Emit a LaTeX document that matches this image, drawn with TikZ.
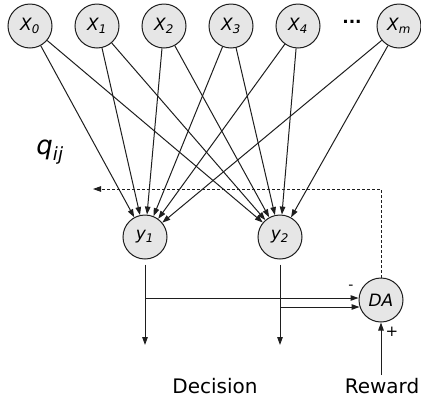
\documentclass[tikz,border=0pt]{standalone}
\usepackage{fontspec}
\setmainfont{DejaVu Sans}
\usetikzlibrary{calc,arrows.meta}

\definecolor{cellfill}{HTML}{E6E6E6}
\definecolor{ink}{HTML}{1E1E1E}

\begin{document}
\begin{tikzpicture}[x=1pt,y=-1pt,
		neuron/.style={circle,draw=ink,fill=cellfill,line width=1pt,minimum size=44pt,inner sep=0pt,font=\fontsize{17}{19}\selectfont\itshape},
		conn/.style={draw=ink,line width=1pt,-{Triangle[length=8pt,width=5.5pt]}},
		feedback/.style={conn,dash pattern=on 3pt off 2pt,line width=0.9pt},
		caption/.style={font=\fontsize{20}{22}\selectfont,inner sep=0pt}]
		\useasboundingbox (0,0) rectangle (421,400);
		% input layer
		\node[neuron] (x0) at (30,26) {X\textsubscript{0}};
		\node[neuron] (x1) at (97,26) {X\textsubscript{1}};
		\node[neuron] (x2) at (164,26) {X\textsubscript{2}};
		\node[neuron] (x3) at (231,26) {X\textsubscript{3}};
		\node[neuron] (x4) at (298,26) {X\textsubscript{4}};
		\node[font=\fontsize{17}{19}\selectfont\bfseries] (dots) at (352,22) {...};
		\node[neuron] (xm) at (399,26) {X\textsubscript{m}};
		% output layer and critic
		\node[neuron] (y1) at (145,237) {y\textsubscript{1}};
		\node[neuron] (y2) at (280,237) {y\textsubscript{2}};
		\node[neuron] (da) at (381,300) {DA};
		\node[font=\fontsize{26}{28}\selectfont\itshape] (q) at (50,152) {q\textsubscript{ij}};
		\node[caption] (dec) at (215,386) {Decision};
		\node[caption] (rw) at (382,386) {Reward};
		\coordinate (fb) at (93,189);
		\coordinate (d1) at (145,345);
		\coordinate (d2) at (280,345);
		\coordinate (s1) at (145,298);
		\coordinate (s2) at (280,307);

		\foreach \src in {x0,x1,x2,x3,x4,xm}{
			\draw[conn] (\src) -- (y1);
			\draw[conn] (\src) -- (y2);
		}
		\draw[conn,shorten <=5pt] (y1) -- (d1);
		\draw[conn,shorten <=5pt] (y2) -- (d2);
		\draw[conn] (s1) -- (s1 -| da.west);
		\draw[conn] (s2) -- ($(s2 -| da.west)+(1,0)$);
		\draw[feedback] (da.north) |- (fb);
		\draw[conn,shorten <=3pt] (da |- rw.north) -- (da.south);
		\node[font=\fontsize{14}{16}\selectfont] (minus) at (351,287) {-};
		\node[font=\fontsize{15}{17}\selectfont] (plus) at (392,332) {+};
	\end{tikzpicture}
\end{document}
